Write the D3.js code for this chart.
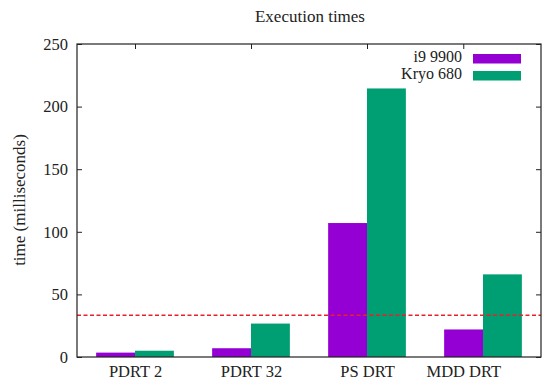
<!DOCTYPE html>
<html>
<head>
<meta charset="utf-8">
<script src="https://cdn.jsdelivr.net/npm/d3@7"></script>
</head>
<body style="margin:0; background:#fff">
<div class="canvas"></div>
<script>
const categories = ['PDRT 2', 'PDRT 32', 'PS DRT', 'MDD DRT'];
const tickPositions = [0, 1, 2, 2.83];
const seriesNames = ['i9 9900', 'Kryo 680'];
const i9 = [3.5, 7, 107, 22];
const kryo = [5, 26.7, 214.5, 66];
const threshold = 33.3;
const yTicks = [0, 50, 100, 150, 200, 250];

const colors = ['#9400d3', '#009e73'];
const series = [i9, kryo];
const font = '"Liberation Serif", "Noto Serif", "DejaVu Serif", serif';

const svg = d3.select('.canvas')
    .append('svg')
    .attr('width', 550)
    .attr('height', 392)
    .style('font-family', font);

const margin = {top: 44, right: 9, bottom: 35, left: 77};
const w = 550 - margin.left - margin.right;
const h = 392 - margin.top - margin.bottom;

const g = svg.append('g')
    .attr('transform', `translate(${margin.left},${margin.top})`);

const x = d3.scaleLinear()
    .domain([-0.5, 3.5])
    .range([0, w]);

const y = d3.scaleLinear()
    .domain([0, 250])
    .range([h, 0]);

const barW = 0.335;

// bars
series.forEach((vals, s) => {
  g.selectAll('rect.s' + s)
    .data(vals)
    .enter()
    .append('rect')
    .attr('class', 's' + s)
    .attr('x', (d, i) => x(i + (s - 1) * barW))
    .attr('width', x(barW) - x(0))
    .attr('y', d => y(d))
    .attr('height', d => h - y(d))
    .attr('fill', colors[s]);
});

// threshold line
g.append('line')
  .attr('x1', 0).attr('x2', w)
  .attr('y1', y(threshold)).attr('y2', y(threshold))
  .attr('stroke', '#e8202a')
  .attr('stroke-width', 1.5)
  .attr('stroke-dasharray', '4,2.5');

// axes: ticks inward and mirrored
const yAxis = d3.axisLeft(y).tickValues(yTicks).tickSize(-5).tickPadding(9);
const yAxisR = d3.axisRight(y).tickValues(yTicks).tickSize(-5).tickFormat('');
const xAxis = d3.axisBottom(x).tickValues(tickPositions).tickSize(0).tickPadding(8)
    .tickFormat((d, i) => categories[i]);
const xAxisT = d3.axisTop(x).tickValues(tickPositions).tickSize(-5).tickFormat('');

g.append('g').call(yAxis);
g.append('g').attr('transform', `translate(${w},0)`).call(yAxisR);
g.append('g').attr('transform', `translate(0,${h})`).call(xAxis);
g.append('g').call(xAxisT);

g.selectAll('.domain').remove();
g.selectAll('.tick line').attr('stroke', '#222');
g.selectAll('.tick text')
  .style('font-size', '16.5px')
  .attr('fill', '#222');

g.append('rect')
  .attr('width', w).attr('height', h)
  .attr('fill', 'none')
  .attr('stroke', '#222')
  .attr('stroke-width', 1.2);

// title + axis label
svg.append('text')
  .attr('x', 310).attr('y', 22)
  .attr('text-anchor', 'middle')
  .style('font-size', '17px')
  .attr('fill', '#222')
  .text('Execution times');

svg.append('text')
  .attr('transform', 'translate(25,200) rotate(-90)')
  .attr('text-anchor', 'middle')
  .style('font-size', '17px')
  .attr('fill', '#222')
  .text('time (milliseconds)');

// legend
const legend = g.append('g').attr('transform', `translate(${w - 79},${18})`);
seriesNames.forEach((name, i) => {
  legend.append('text')
    .attr('x', 0).attr('y', i * 17)
    .attr('text-anchor', 'end')
    .style('font-size', '16px')
    .attr('fill', '#222')
    .text(name);
  legend.append('rect')
    .attr('x', 11).attr('y', i * 17 - 8)
    .attr('width', 48).attr('height', 9.5)
    .attr('fill', colors[i]);
});

// every text gets the serif family explicitly; reapply once the font is loaded
const setFont = () => svg.selectAll('text').style('font-family', font);
setFont();
if (document.fonts) {
  document.fonts.load('17px "Liberation Serif"').then(setFont);
}
</script>
</body>
</html>
